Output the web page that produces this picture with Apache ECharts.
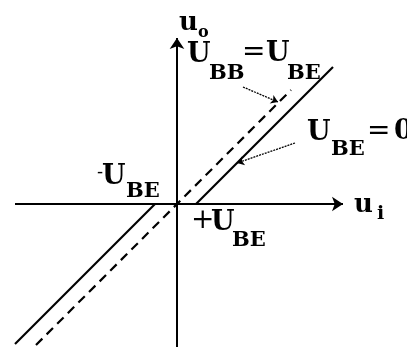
<!DOCTYPE html>
<html>
<head>
<meta charset="utf-8">
<script src="https://cdn.jsdelivr.net/npm/echarts@6/dist/echarts.min.js"></script>
<style>
	html, body { margin: 0; padding: 0; background: #fff; }
	#mychart { width: 407px; height: 347px; }
</style>
</head>
<body>
<div id="mychart"></div>
<script>
// data units: origin at the axes crossing, U_BE is about 20
var xRange = [-177, 230];
var yRange = [-143, 204];

var uiAxis = [[-162, 0], [166, 0]];
var uoAxis = [[0, -143], [0, 166]];

// U_BE = 0 : dead zone between -U_BE and +U_BE
var solidLeft = [[-162, -140], [-22, 0]];
var solidRight = [[19, 0], [156, 137]];
// U_BB = U_BE : passes the origin
var dashedLine = [[-141, -141], [0, 0], [114, 114]];

var leaderBB = [[66, 117], [101, 102]];
var leaderBE = [[118, 61], [60, 41]];

// text pieces: [text, x, y, fontSize, weight]
var labels = [
	['u', 2, 180.5, 26, 'bold'], ['o', 21, 171.5, 16, 'bold'],
	['U', 10, 149, 27, 'bold'], ['BB', 32, 130.5, 21, 'bold'], ['=', 65, 151, 28, 'normal'],
	['U', 89, 150, 27, 'bold'], ['BE', 110, 130.5, 21, 'bold'],
	['U', 130, 71, 27, 'bold'], ['BE', 154, 54, 21, 'bold'], ['=', 190, 72, 28, 'normal'], ['0', 217, 72, 27, 'bold'],
	['u', 177, -1, 26, 'bold'], ['i', 200, -10, 19, 'bold'],
	['-', -80, 31, 18, 'normal'], ['U', -75, 27, 27, 'bold'], ['BE', -51, 12.5, 21, 'bold'],
	['+', 14, -17, 28, 'normal'], ['U', 34, -19, 27, 'bold'], ['BE', 55, -36.5, 21, 'bold']
];

var fig = {
	initial : function initial() {
		this.myChart = echarts.init(document.getElementById('mychart'));
		this.drawChart();
		this.drawLabels();
	},

	drawChart : function drawChart() {
		var option = {
			animation : false,
			backgroundColor : '#fff',
			grid : { left : 0, right : 0, top : 0, bottom : 0 },
			xAxis : { type : 'value', min : xRange[0], max : xRange[1], show : false },
			yAxis : { type : 'value', min : yRange[0], max : yRange[1], show : false },
			series : [
				{
					type : 'lines',
					coordinateSystem : 'cartesian2d',
					symbol : ['none', 'arrow'],
					symbolSize : 11,
					lineStyle : { color : '#000', width : 2, opacity : 1 },
					data : [{ coords : uiAxis }, { coords : uoAxis }]
				},
				{
					type : 'lines',
					coordinateSystem : 'cartesian2d',
					symbol : ['none', 'arrow'],
					symbolSize : 7,
					lineStyle : { color : '#000', width : 1.3, type : [2, 1], opacity : 1 },
					data : [{ coords : leaderBB }, { coords : leaderBE }]
				},
				{
					type : 'line',
					data : solidLeft,
					showSymbol : false,
					lineStyle : { color : '#000', width : 2.2 }
				},
				{
					type : 'line',
					data : solidRight,
					showSymbol : false,
					lineStyle : { color : '#000', width : 2.2 }
				},
				{
					type : 'line',
					data : dashedLine,
					showSymbol : false,
					lineStyle : { color : '#000', width : 2.2, type : [9, 6] }
				}
			]
		};
		this.myChart.setOption(option);
	},

	drawLabels : function drawLabels() {
		var elements = [];
		for (var i = 0; i < labels.length; i++) {
			var p = this.myChart.convertToPixel({ gridIndex : 0 }, [labels[i][1], labels[i][2]]);
			elements.push({
				type : 'text',
				x : p[0],
				y : p[1],
				style : {
					text : labels[i][0],
					fill : '#000',
					font : labels[i][4] + ' ' + labels[i][3] + 'px "DejaVu Serif"',
					align : 'left',
					verticalAlign : 'middle'
				}
			});
		}
		this.myChart.setOption({ graphic : elements });
	}
};

fig.initial();
</script>
</body>
</html>
